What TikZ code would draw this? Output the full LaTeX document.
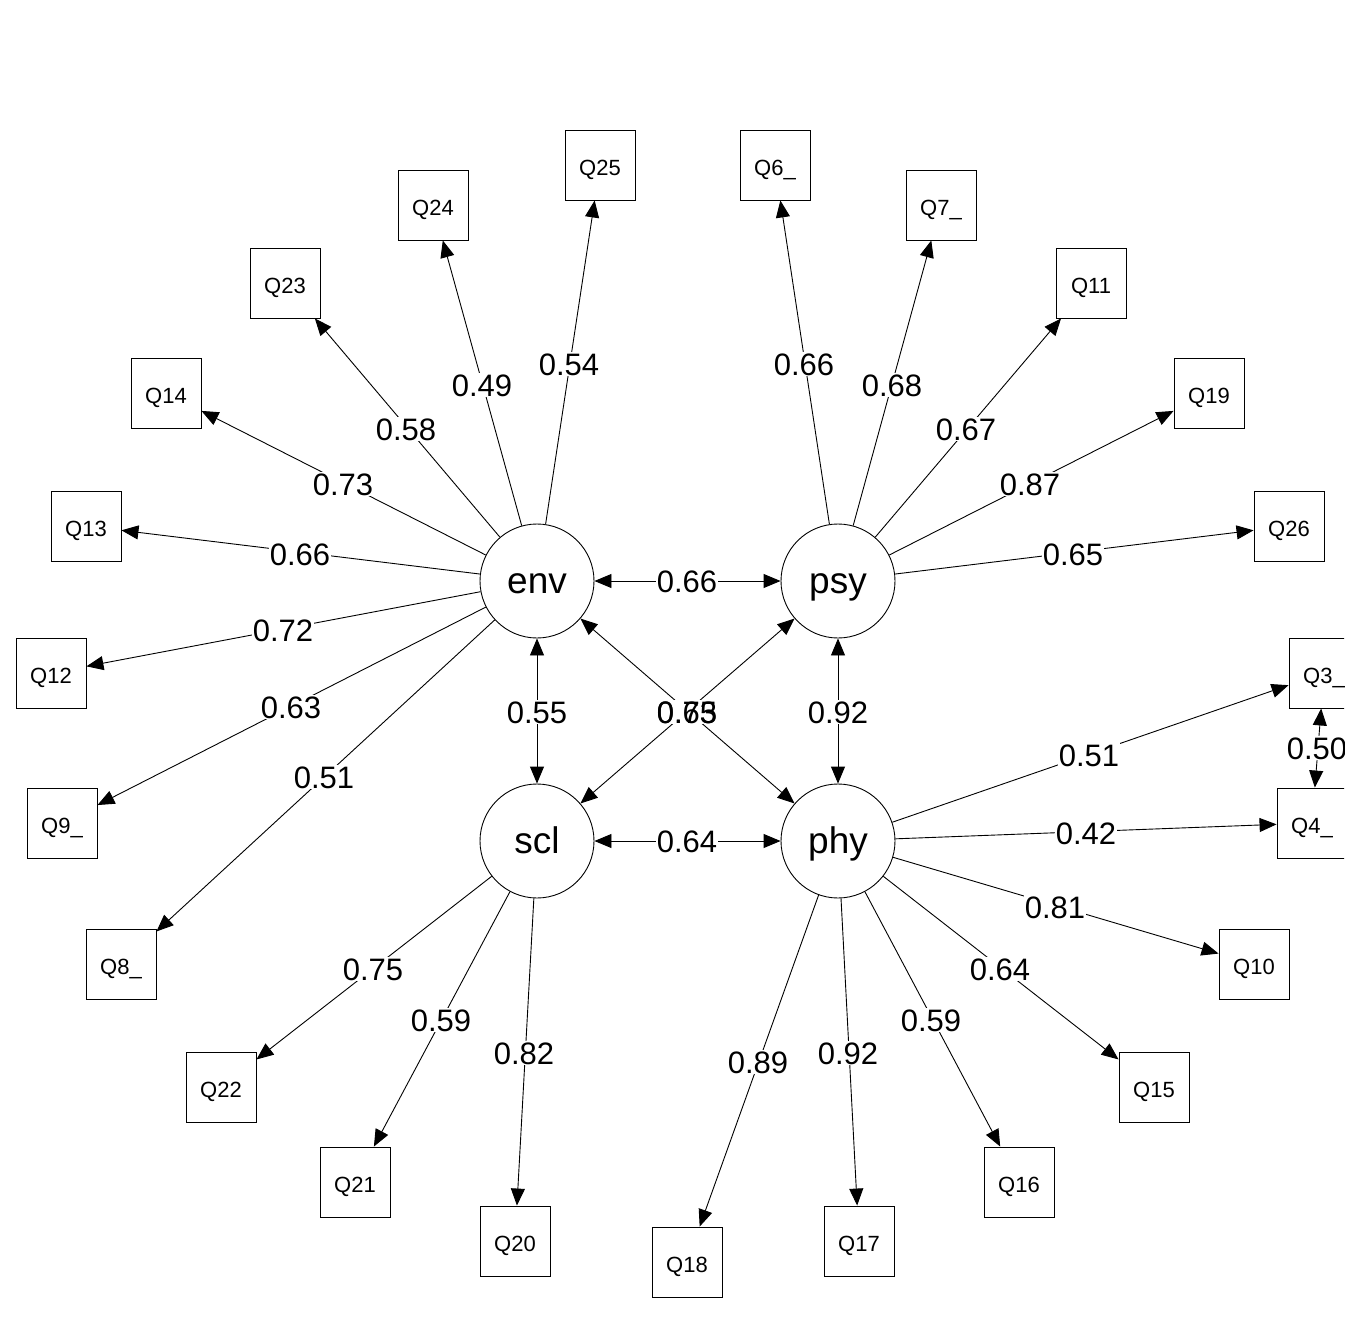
\documentclass[tikz,border=0pt]{standalone}
\usepackage{fontspec}
\setmainfont{Liberation Sans}
\usetikzlibrary{arrows.meta}
\begin{document}
\begin{tikzpicture}[x=1pt,y=-1pt,
 obs/.style={draw, minimum width=70pt, minimum height=70pt, inner sep=0pt, text height=21pt, text depth=0pt, font=\fontsize{22}{22}\selectfont, line width=0.9pt},
 lat/.style={draw, circle, minimum size=114pt, inner sep=0pt, text height=24pt, text depth=0pt, font=\fontsize{37}{37}\selectfont, line width=0.9pt},
 lab/.style={fill=white, inner sep=1pt, text height=22pt, text depth=0pt, font=\fontsize{31}{31}\selectfont},
 labnf/.style={inner sep=1pt, text height=22pt, text depth=0pt, font=\fontsize{31}{31}\selectfont},
 ld/.style={line width=0.9pt, -{Triangle[length=17pt,width=14pt]}},
 bi/.style={line width=0.9pt, {Triangle[length=17pt,width=14pt]}-{Triangle[length=17pt,width=14pt]}}]
\clip (0,0) rectangle (1344,1344);
\fill[white] (0,0) rectangle (1344,1344);
% latent
\node[lat] (env) at (537,581) {env};
\node[lat] (psy) at (838,581) {psy};
\node[lat] (scl) at (537,841) {scl};
\node[lat] (phy) at (838,841) {phy};
% observed
\node[obs] (Q25) at (600,165) {Q25};
\node[obs] (Q24) at (433,205) {Q24};
\node[obs] (Q23) at (285,283) {Q23};
\node[obs] (Q14) at (166,393) {Q14};
\node[obs] (Q13) at (86,526) {Q13};
\node[obs] (Q12) at (51,673) {Q12};
\node[obs] (Q9) at (62,823) {Q9\_};
\node[obs] (Q8) at (121,964) {Q8\_};
\node[obs] (Q6) at (775,165) {Q6\_};
\node[obs] (Q7) at (941,205) {Q7\_};
\node[obs] (Q11) at (1091,283) {Q11};
\node[obs] (Q19) at (1209,393) {Q19};
\node[obs] (Q26) at (1289,526) {Q26};
\node[obs] (Q3) at (1324,673) {Q3\_};
\node[obs] (Q4) at (1312,823) {Q4\_};
\node[obs] (Q10) at (1254,964) {Q10};
\node[obs] (Q15) at (1154,1087) {Q15};
\node[obs] (Q16) at (1019,1182) {Q16};
\node[obs] (Q17) at (859,1241) {Q17};
\node[obs] (Q18) at (687,1262) {Q18};
\node[obs] (Q20) at (515,1241) {Q20};
\node[obs] (Q21) at (355,1182) {Q21};
\node[obs] (Q22) at (221,1087) {Q22};
% loadings
\foreach \q in {Q25,Q24,Q23,Q14,Q13,Q12,Q9,Q8} \draw[ld] (env) -- (\q);
\foreach \q in {Q6,Q7,Q11,Q19,Q26} \draw[ld] (psy) -- (\q);
\foreach \q in {Q3,Q4,Q10,Q15,Q16,Q17,Q18} \draw[ld] (phy) -- (\q);
\foreach \q in {Q20,Q21,Q22} \draw[ld] (scl) -- (\q);
% covariances
\draw[bi] (env) -- (psy);
\draw[bi] (scl) -- (phy);
\draw[bi] (env) -- (scl);
\draw[bi] (psy) -- (phy);
\draw[bi] (env) -- (phy);
\draw[bi] (psy) -- (scl);
\draw[bi] (Q3) -- (Q4);
% labels
\node[lab] (l1) at (569,364) {0.54};
\node[lab] (l2) at (482,385) {0.49};
\node[lab] (l3) at (406,429) {0.58};
\node[lab] (l4) at (343,484) {0.73};
\node[lab] (l5) at (300,554) {0.66};
\node[lab] (l6) at (283,630) {0.72};
\node[lab] (l7) at (291,707) {0.63};
\node[lab] (l8) at (324,777) {0.51};
\node[lab] (l9) at (804,364) {0.66};
\node[lab] (l10) at (892,385) {0.68};
\node[lab] (l11) at (966,429) {0.67};
\node[lab] (l12) at (1030,484) {0.87};
\node[lab] (l13) at (1073,554) {0.65};
\node[lab] (l14) at (1089,755) {0.51};
\node[lab] (l15) at (1086,833) {0.42};
\node[lab] (l16) at (1055,907) {0.81};
\node[lab] (l17) at (1000,969) {0.64};
\node[lab] (l18) at (931,1020) {0.59};
\node[lab] (l19) at (848,1053) {0.92};
\node[lab] (l20) at (758,1062) {0.89};
\node[lab] (l21) at (524,1053) {0.82};
\node[lab] (l22) at (441,1020) {0.59};
\node[lab] (l23) at (373,969) {0.75};
\node[lab] (l24) at (687,581) {0.66};
\node[lab] (l25) at (687,841) {0.64};
\node[lab] (l26) at (537,712) {0.55};
\node[lab] (l27) at (838,712) {0.92};
\node[lab] (l28) at (687,712) {0.65};
\node[labnf] (l29) at (687,712) {0.73};
\node[lab] (l30) at (1317,748) {0.50};
\end{tikzpicture}
\end{document}
